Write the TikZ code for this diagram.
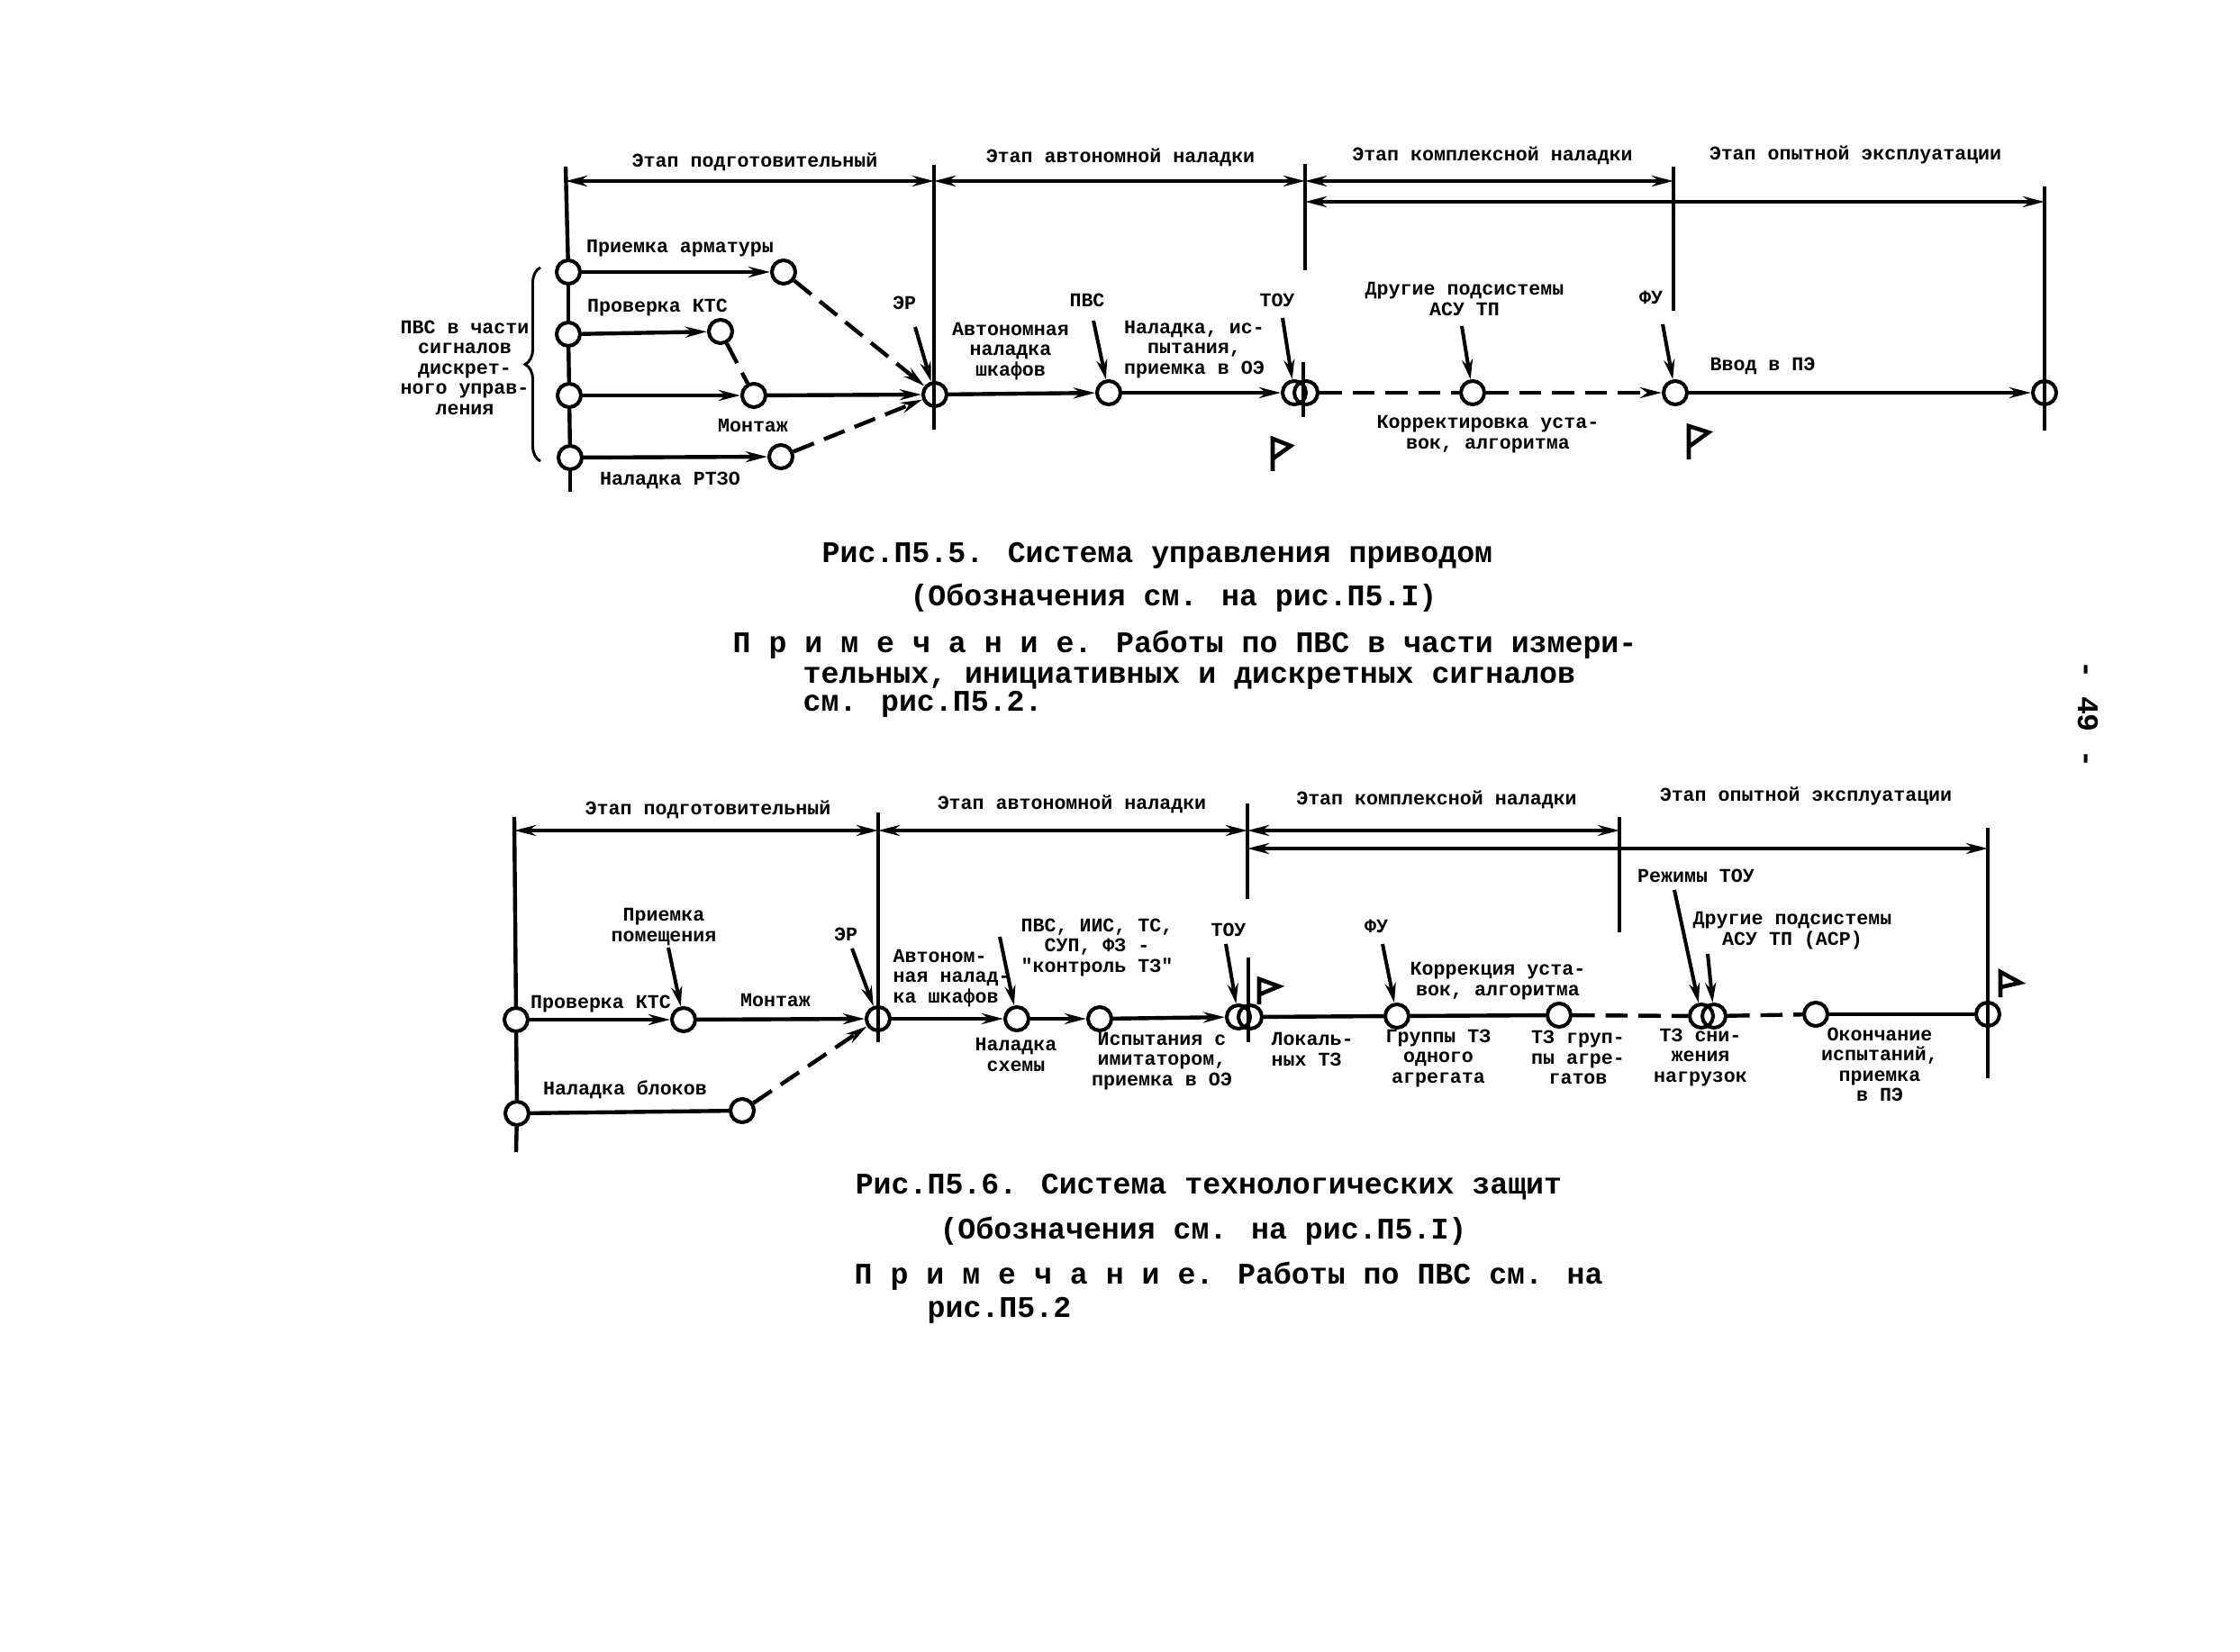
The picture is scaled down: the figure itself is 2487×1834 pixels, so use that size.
\documentclass[tikz,border=0pt]{standalone}
\usepackage{fontspec}
\newfontfamily\typerfont{Liberation Mono}
\usetikzlibrary{arrows.meta,decorations.pathreplacing}

\begin{document}
\begin{tikzpicture}[
  x=0.01cm, y=-0.01cm,
  evt/.style={circle, draw=black, line width=1.15pt, minimum size=2.6mm, inner sep=0pt},
  work/.style={-{Stealth[length=2.4mm,width=1.2mm]}, line width=1.25pt},
  plain/.style={line width=1.25pt},
  late/.style={dash pattern=on 7pt off 3.4pt},
  ptr/.style={-{Stealth[length=2.2mm,width=1.2mm]}, line width=1.15pt},
  dim/.style={{Stealth[length=2.4mm,width=1.2mm]}-{Stealth[length=2.4mm,width=1.2mm]}, line width=1.1pt},
  bar/.style={line width=0.9pt},
  lbl/.style={font=\typerfont\fontsize{6.15}{6.4}\selectfont\bfseries, align=center, inner sep=0pt},
  capt/.style={font=\typerfont\fontsize{9.45}{9.45}\selectfont\bfseries, inner sep=0pt},
  captl/.style={capt, anchor=west},
]
\useasboundingbox (0,0) rectangle (2487,1834);

% #1 x, #2 y, #3 pole length, #4 tip dx, #5 tip dy
\newcommand{\flagmark}[5]{%
  \draw[line width=1.3pt] (#1,{#2+#3}) -- (#1,#2) -- ++(#4,#5) -- (#1+1,{#2+0.6*#3});
}

%% Fig. 5.5
\coordinate (uTa) at (628,185);
\coordinate (uBa) at (1037,183);
\coordinate (uBz) at (1037,477);
\coordinate (uTb) at (1449,182);
\coordinate (uBb) at (1449,300);
\coordinate (uTc) at (1447,402);
\coordinate (uBc) at (1447,463);
\coordinate (uTd) at (1858,185);
\coordinate (uBd) at (1858,345);
\coordinate (uTe) at (2270,207);
\coordinate (uBe) at (2270,478);
\coordinate (uEnd) at (633,546);

\node[evt] (armA) at (631,302) {};
\node[evt] (ktsA) at (631,371) {};
\node[evt] (monA) at (632,439) {};
\node[evt] (rtzA) at (633,508) {};
\node[evt] (armB) at (870,302) {};
\node[evt] (ktsB) at (800,368) {};
\node[evt] (monB) at (837,439) {};
\node[evt] (rtzB) at (867,507) {};
\node[evt] (erU) at (1038,438) {};
\node[evt] (pvsU) at (1231,436) {};
\node[evt] (touU) at (1437,436) {};
\node[evt] (touV) at (1450,436) {};
\node[evt] (othU) at (1635,436) {};
\node[evt] (fuU) at (1860,436) {};
\node[evt] (endU) at (2270,436) {};

% left rail and stage bars
\draw[plain] (uTa) -- (armA);
\draw[plain] (armA) -- (ktsA);
\draw[plain] (ktsA) -- (monA);
\draw[plain] (monA) -- (rtzA);
\draw[plain] (rtzA) -- (uEnd);
\draw[bar] (uBa) -- (uBz);
\draw[bar] (uTb) -- (uBb);
\draw[bar] (uTc) -- (uBc);
\draw[bar] (uTd) -- (uBd);
\draw[plain] (uTe) -- (uBe);

\coordinate (dA) at (628,201);
\coordinate (dB) at (1037,201);
\coordinate (dC) at (1449,201);
\coordinate (dD) at (1858,201);
\coordinate (dE) at (1449,224);
\coordinate (dF) at (2270,224);
\draw[dim] (dA) -- (dB);
\draw[dim] (dB) -- (dC);
\draw[dim] (dC) -- (dD);
\draw[dim] (dE) -- (dF);

\draw[work] (armA) -- (armB);
\draw[work] (ktsA) -- (ktsB);
\draw[work] (monA) -- (monB);
\draw[work] (rtzA) -- (rtzB);
\draw[work] (monB) -- (erU);
\draw[work, late] (armB) -- (erU);
\draw[work, late] (rtzB) -- (erU);
\draw[plain, late] (ktsB) -- (monB);
\draw[work] (erU) -- (pvsU);
\draw[work] (pvsU) -- (touU);
\draw[plain, late] (touV) -- (othU);
\draw[work, late] (othU) -- (fuU);
\draw[work] (fuU) -- (endU);

\coordinate (pErU) at (1016,363);
\coordinate (pPvsU) at (1214,356);
\coordinate (pTouU) at (1424,353);
\coordinate (pOthU) at (1623,362);
\coordinate (pFuU) at (1846,360);
\draw[ptr] (pErU) -- (erU);
\draw[ptr] (pPvsU) -- (pvsU);
\draw[ptr] (pTouU) -- (touU);
\draw[ptr] (pOthU) -- (othU);
\draw[ptr] (pFuU) -- (fuU);

\coordinate (brB) at (600,512);
\coordinate (brT) at (600,297);
\draw[line width=0.85pt, decorate, decoration={brace, amplitude=1.7mm}] (brB) -- (brT);

\flagmark{1413}{487}{36}{20}{8}
\flagmark{1875}{473}{37}{22}{7}

\node[lbl] (stA) at (838,180) {Этап подготовительный};
\node[lbl] (stB) at (1244,175) {Этап автономной наладки};
\node[lbl] (stC) at (1657,173) {Этап комплексной наладки};
\node[lbl] (stD) at (2060,172) {Этап опытной эксплуатации};
\node[lbl] (txBr) at (516,408) {ПВС в части\\сигналов\\дискрет-\\ного управ-\\ления};
\node[lbl] (txArm) at (755,276) {Приемка арматуры};
\node[lbl] (txKts) at (730,342) {Проверка КТС};
\node[lbl] (txMon) at (836,472) {Монтаж};
\node[lbl] (txRtz) at (744,533) {Наладка РТЗО};
\node[lbl] (txEr) at (1004,336) {ЭР};
\node[lbl] (txPvs) at (1207,333) {ПВС};
\node[lbl] (txTou) at (1418,333) {ТОУ};
\node[lbl] (txFu) at (1833,330) {ФУ};
\node[lbl] (txAvt) at (1122,390) {Автономная\\наладка\\шкафов};
\node[lbl] (txNal) at (1326,388) {Наладка, ис-\\пытания,\\приемка в ОЭ};
\node[lbl] (txOth) at (1626,332) {Другие подсистемы\\АСУ ТП};
\node[lbl] (txKor) at (1652,482) {Корректировка уста-\\вок, алгоритма};
\node[lbl] (txVvod) at (1957,406) {Ввод в ПЭ};

\node[capt] (capA) at (1285,617) {Рис.П5.5. Система управления приводом};
\node[capt] (subA) at (1303,664) {(Обозначения см. на рис.П5.I)};
\node[captl] (noteA) at (813,716) {П р и м е ч а н и е. Работы по ПВС в части измери-};
\node[captl] (noteB) at (891,753) {тельных, инициативных и дискретных сигналов};
\node[captl] (noteC) at (891,782) {см. рис.П5.2.};

%% Fig. 5.6
\coordinate (lTa) at (571,907);
\coordinate (lEnd) at (573,1279);
\coordinate (lTb) at (975,902);
\coordinate (lBb) at (975,1157);
\coordinate (lTc) at (1385,892);
\coordinate (lBc) at (1385,998);
\coordinate (lTd) at (1386,1063);
\coordinate (lBd) at (1386,1157);
\coordinate (lTe) at (1798,907);
\coordinate (lBe) at (1798,1035);
\coordinate (lTf) at (2207,919);
\coordinate (lBf) at (2207,1197);

\node[evt] (ktsL) at (573,1132) {};
\node[evt] (pomL) at (759,1132) {};
\node[evt] (erL) at (975,1131) {};
\node[evt] (blkA) at (574,1236) {};
\node[evt] (blkB) at (824,1233) {};
\node[evt] (schL) at (1129,1131) {};
\node[evt] (imiL) at (1221,1131) {};
\node[evt] (touL) at (1375,1129) {};
\node[evt] (touM) at (1388,1129) {};
\node[evt] (fuL) at (1551,1128) {};
\node[evt] (korL) at (1731,1127) {};
\node[evt] (rezL) at (1889,1128) {};
\node[evt] (rezM) at (1903,1128) {};
\node[evt] (okoL) at (2016,1126) {};
\node[evt] (endL) at (2207,1126) {};

\draw[plain] (lTa) -- (ktsL);
\draw[plain] (ktsL) -- (blkA);
\draw[plain] (blkA) -- (lEnd);
\draw[bar] (lTb) -- (lBb);
\draw[bar] (lTc) -- (lBc);
\draw[bar] (lTd) -- (lBd);
\draw[bar] (lTe) -- (lBe);
\draw[bar] (lTf) -- (lBf);

\coordinate (eA) at (571,922);
\coordinate (eB) at (975,922);
\coordinate (eC) at (1385,922);
\coordinate (eD) at (1798,922);
\coordinate (eE) at (1385,942);
\coordinate (eF) at (2207,942);
\draw[dim] (eA) -- (eB);
\draw[dim] (eB) -- (eC);
\draw[dim] (eC) -- (eD);
\draw[dim] (eE) -- (eF);

\draw[work] (ktsL) -- (pomL);
\draw[work] (pomL) -- (erL);
\draw[plain] (blkA) -- (blkB);
\draw[work, late] (blkB) -- (erL);
\draw[work] (erL) -- (schL);
\draw[work] (schL) -- (imiL);
\draw[work] (imiL) -- (touL);
\draw[plain] (touM) -- (fuL);
\draw[plain] (fuL) -- (korL);
\draw[plain, late] (korL) -- (rezL);
\draw[plain, late] (rezM) -- (okoL);
\draw[plain] (okoL) -- (endL);

\coordinate (pPomL) at (742,1052);
\coordinate (pErL) at (946,1053);
\coordinate (pSchL) at (1110,1040);
\coordinate (pTouL) at (1361,1048);
\coordinate (pFuL) at (1535,1048);
\coordinate (pRezL) at (1859,988);
\coordinate (pOthL) at (1896,1059);
\draw[ptr] (pPomL) -- (pomL);
\draw[ptr] (pErL) -- (erL);
\draw[ptr] (pSchL) -- (schL);
\draw[ptr] (pTouL) -- (touL);
\draw[ptr] (pFuL) -- (fuL);
\draw[ptr] (pRezL) -- (rezL);
\draw[ptr] (pOthL) -- (rezM);

\flagmark{1398}{1087}{28}{22}{8}
\flagmark{2221}{1079}{28}{22}{12}

\node[lbl] (s2A) at (786,899) {Этап подготовительный};
\node[lbl] (s2B) at (1190,893) {Этап автономной наладки};
\node[lbl] (s2C) at (1595,888) {Этап комплексной наладки};
\node[lbl] (s2D) at (2005,884) {Этап опытной эксплуатации};
\node[lbl] (t2Kts) at (667,1115) {Проверка КТС};
\node[lbl] (t2Mon) at (861,1110) {Монтаж};
\node[lbl] (t2Pom) at (737,1029) {Приемка\\помещения};
\node[lbl] (t2Er) at (939,1037) {ЭР};
\node[lbl] (t2Blk) at (694,1210) {Наладка блоков};
\node[lbl, align=left, anchor=west] (t2Avt) at (991,1086) {Автоном-\\ная налад-\\ка шкафов};
\node[lbl] (t2Pvs) at (1218,1052) {ПВС, ИИС, ТС,\\СУП, ФЗ -\\"контроль ТЗ"};
\node[lbl] (t2Sch) at (1128,1171) {Наладка\\схемы};
\node[lbl] (t2Isp) at (1290,1178) {Испытания с\\имитатором,\\приемка в ОЭ};
\node[lbl] (t2Tou) at (1364,1032) {ТОУ};
\node[lbl] (t2Fu) at (1528,1028) {ФУ};
\node[lbl, align=left, anchor=west] (t2Lok) at (1411,1165) {Локаль-\\ных ТЗ};
\node[lbl] (t2Gr) at (1597,1175) {Группы ТЗ\\одного\\агрегата};
\node[lbl] (t2Kor) at (1663,1089) {Коррекция уста-\\вок, алгоритма};
\node[lbl] (t2Agr) at (1752,1174) {ТЗ груп-\\пы агре-\\гатов};
\node[lbl] (t2Rez) at (1883,972) {Режимы ТОУ};
\node[lbl] (t2Oth) at (1990,1033) {Другие подсистемы\\АСУ ТП (АСР)};
\node[lbl] (t2Sni) at (1888,1174) {ТЗ сни-\\жения\\нагрузок};
\node[lbl] (t2Oko) at (2087,1182) {Окончание\\испытаний,\\приемка\\в ПЭ};

\node[capt] (capL) at (1342,1318) {Рис.П5.6. Система технологических защит};
\node[capt] (subL) at (1336,1367) {(Обозначения см. на рис.П5.I)};
\node[captl] (noteL) at (948,1417) {П р и м е ч а н и е. Работы по ПВС см. на};
\node[captl] (noteM) at (1029,1455) {рис.П5.2};

\node[capt, rotate=-90] (pageNo) at (2318,793) {- 49 -};
\end{tikzpicture}
\end{document}
